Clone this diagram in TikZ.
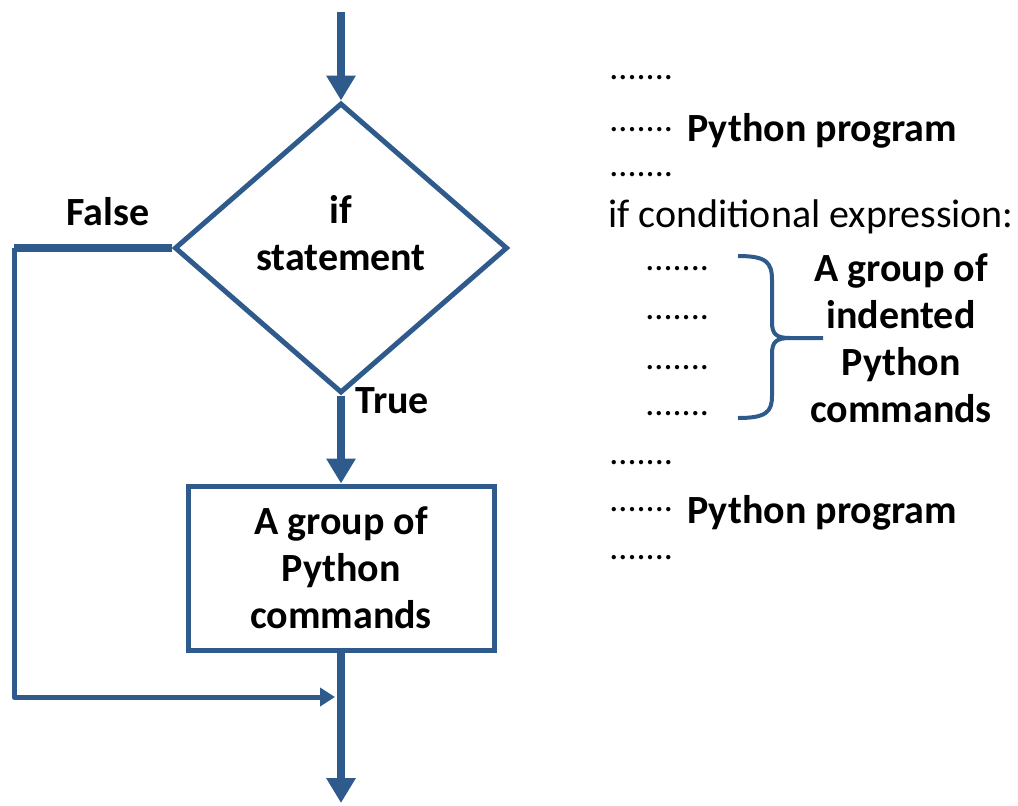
\documentclass[tikz,border=0pt]{standalone}
\usepackage{fontspec}
\setmainfont{Carlito}
\usetikzlibrary{arrows.meta, shapes.geometric}
\definecolor{flowblue}{RGB}{47,90,140}

\begin{document}
\begin{tikzpicture}[x=0.5pt, y=-0.5pt,
  flow/.style={draw=flowblue, line width=4pt},
  flowtip/.style={-{Triangle[length=12.5pt, width=14pt]}},
  backline/.style={draw=flowblue, line width=2.5pt, line join=round,
                   -{Triangle[length=7.5pt, width=9pt]}},
  decision/.style={diamond, draw=flowblue, line width=2.5pt,
                   minimum width=166.5pt, minimum height=145pt, inner sep=0pt},
  box/.style={rectangle, draw=flowblue, line width=2.5pt,
              minimum width=153pt, minimum height=82pt},
  lbl/.style={font=\fontsize{20}{23.5}\selectfont\bfseries, align=center, inner sep=0pt},
  code/.style={font=\fontsize{20}{24}\selectfont, anchor=base west, inner sep=0pt},
  dots/.style={font=\fontsize{18}{20}\selectfont, anchor=base west, inner sep=0pt}
]
  \useasboundingbox (0,0) rectangle (1018,805);

  \coordinate (entry)   at (341,12);
  \node[decision]       (cond)    at (341,248) {};
  \node[lbl]            (condtxt) at (341,233) {if\\statement};
  \node[box, lbl]       (body)    at (341,568) {A group of\\Python\\commands};
  \coordinate (exit)    at (341,803);
  \coordinate (fcorner) at (14,248);
  \coordinate (fdown)   at (14,697);
  \coordinate (merge)   at (341,697);

  \draw[flow, flowtip] (entry) -- (cond.north);
  \draw[flow, flowtip] (cond.south) -- (body.north);
  \draw[flow, flowtip] (body.south) -- (exit);
  \draw[flow] (cond.west) -- (fcorner);
  \draw[backline, shorten >=3pt] (fcorner) -- (fdown) -- (merge);

  \node[lbl, anchor=base west] (false) at (66,225) {False};
  \node[lbl, anchor=base west] (true)  at (355,413) {True};

  \node[dots] (d1) at (609,79)  {.......};
  \node[dots] (d2) at (609,131) {.......};
  \node[lbl, anchor=base west] (prog1) at (687,141) {Python program};
  \node[dots] (d3) at (609,176) {.......};
  \node[code] (ifline) at (608,227) {if conditional expression:};
  \foreach \y/\n in {270/1, 319/2, 369/3, 415/4}
    \node[dots] (ind\n) at (645,\y) {.......};
  \node[lbl] (group) at (901,338) {A group of\\indented\\Python\\commands};
  \node[dots] (d4) at (609,464) {.......};
  \node[dots] (d5) at (609,511) {.......};
  \node[lbl, anchor=base west] (prog2) at (687,523) {Python program};
  \node[dots] (d6) at (609,559) {.......};

  \draw[draw=flowblue, line width=2pt]
    (738,256) .. controls (766,256) and (772,262) .. (772,280) -- (772,322)
    .. controls (772,334) and (776,338) .. (790,338) -- (823,338);
  \draw[draw=flowblue, line width=2pt]
    (738,418) .. controls (766,418) and (772,412) .. (772,396) -- (772,354)
    .. controls (772,342) and (776,338) .. (790,338);
\end{tikzpicture}
\end{document}
